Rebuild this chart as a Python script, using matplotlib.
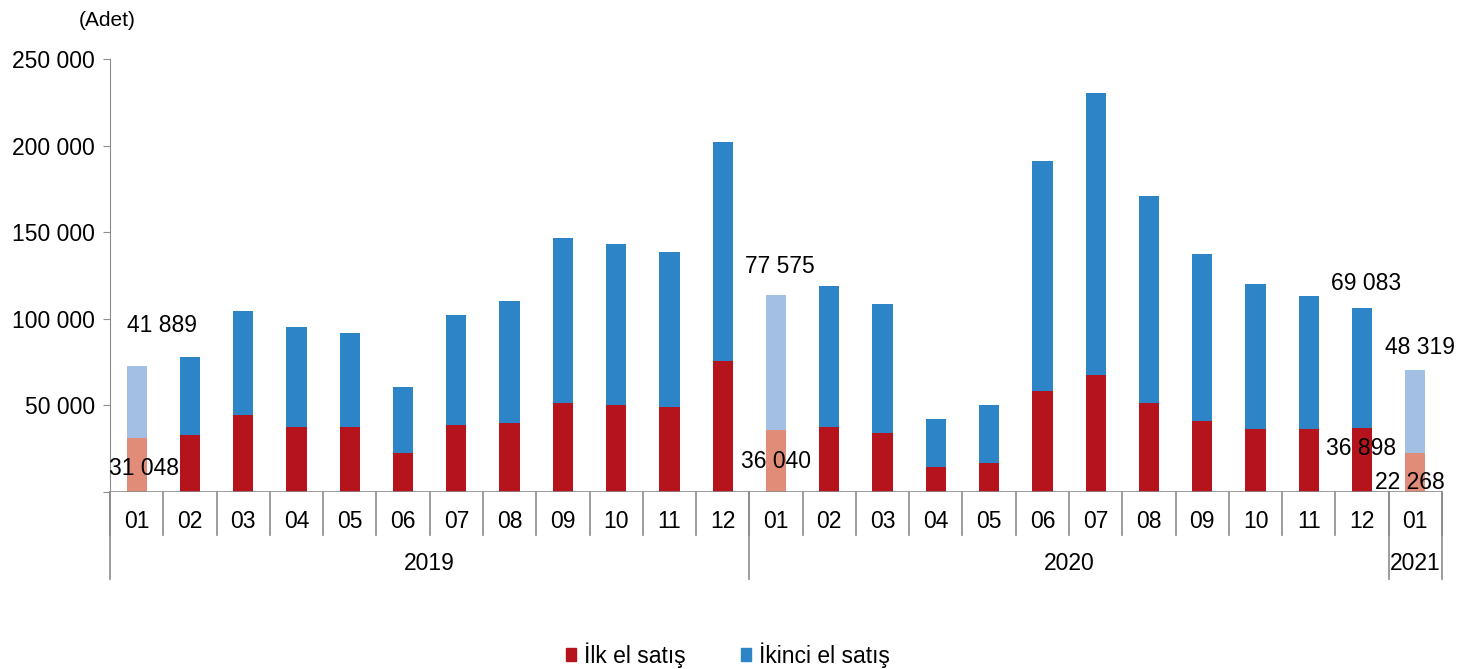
import matplotlib
matplotlib.use("Agg")
import matplotlib.pyplot as plt
from matplotlib.transforms import blended_transform_factory
from matplotlib.patches import Patch

plt.rcParams['font.family'] = ['Liberation Sans', 'DejaVu Sans']

months = ["01", "02", "03", "04", "05", "06", "07", "08", "09", "10", "11", "12",
          "01", "02", "03", "04", "05", "06", "07", "08", "09", "10", "11", "12",
          "01"]
years = ["2019", "2020", "2021"]
year_counts = [12, 12, 1]

ilk_el = [31048, 33000, 44500, 37500, 37500, 22500, 38700, 39800, 51400, 50200, 49000, 75600,
          36040, 37500, 34000, 14400, 16700, 58300, 67600, 51400, 41000, 36400, 36400, 36898,
          22268]
ikinci_el = [41889, 45000, 60000, 57800, 54300, 38100, 63500, 70500, 95200, 93000, 89600, 126400,
             77575, 81400, 74500, 27700, 33500, 132700, 162800, 119500, 96400, 83700, 76800, 69083,
             48319]
highlight = [0, 12, 24]

labelled_ilk = {0: "31 048", 12: "36 040", 23: "36 898", 24: "22 268"}
labelled_ikinci = {0: "41 889", 12: "77 575", 23: "69 083", 24: "48 319"}

RED = "#B5141C"
BLUE = "#2D84C6"
LRED = "#E08C78"
LBLUE = "#A4BFE4"
GRAY = "#8C8C8C"

fig = plt.figure(figsize=(14.77, 6.69), dpi=100)
ax = fig.add_axes([110/1477, 1-492/669, (1442-110)/1477, 433/669])

n = len(months)
xs = list(range(n))
red_c = [LRED if i in highlight else RED for i in xs]
blue_c = [LBLUE if i in highlight else BLUE for i in xs]
w = 0.38
ax.bar(xs, ilk_el, width=w, color=red_c, zorder=2)
ax.bar(xs, ikinci_el, width=w, bottom=ilk_el, color=blue_c, zorder=2)

ax.set_xlim(-0.5, n - 0.5)
ax.set_ylim(0, 250000)
ax.set_yticks(range(0, 250001, 50000))
ax.set_yticklabels([("{:,}".format(v).replace(",", " ") if v else "") for v in range(0, 250001, 50000)],
                   fontsize=16.5)
ax.tick_params(axis='y', length=5, color=GRAY, pad=6)
ax.set_xticks([])
for s in ["top", "right", "bottom"]:
    ax.spines[s].set_visible(False)
ax.spines["left"].set_color(GRAY)
ax.axhline(0, color=GRAY, lw=1.2, zorder=3)

tr = blended_transform_factory(ax.transData, ax.transAxes)
# month separators and labels
for i in range(n + 1):
    ax.plot([i - 0.5, i - 0.5], [0, -0.10], color=GRAY, lw=1.2, transform=tr, clip_on=False)
for i, m in enumerate(months):
    ax.text(i, -0.069, m, transform=tr, ha="center", va="center", fontsize=16.5)
# year separators and labels
bounds = [0]
for c in year_counts:
    bounds.append(bounds[-1] + c)
for b in bounds:
    ax.plot([b - 0.5, b - 0.5], [0, -0.20], color=GRAY, lw=1.2, transform=tr, clip_on=False)
for k, y in enumerate(years):
    mid = (bounds[k] + bounds[k + 1] - 1) / 2
    ax.text(mid, -0.165, y, transform=tr, ha="center", va="center", fontsize=16.5)

# value labels
ikinci_off = {0: (18, 29), 12: (3, 21), 23: (3, 18), 24: (3, 16)}
ilk_off = {0: (5, -22), 12: (0, -23), 23: (-1, -15), 24: (-4, -21)}
for i, t in labelled_ikinci.items():
    top = ilk_el[i] + ikinci_el[i]
    ax.annotate(t, (i, top), xytext=ikinci_off[i], textcoords="offset points",
                ha="center", va="center", fontsize=16.5, zorder=5)
for i, t in labelled_ilk.items():
    ax.annotate(t, (i, ilk_el[i]), xytext=ilk_off[i], textcoords="offset points",
                ha="center", va="center", fontsize=16.5, zorder=5)

fig.text(107/1477, 1-20/669, "(Adet)", ha="center", va="center", fontsize=15)

handles = [Patch(color=RED, label="İlk el satış"), Patch(color=BLUE, label="İkinci el satış")]
fig.legend(handles=handles, loc="center", bbox_to_anchor=(728/1477, 1-655/669), ncol=2,
           frameon=False, fontsize=16.5, handlelength=0.45, handleheight=0.45,
           handletextpad=0.35, columnspacing=2.4)

fig.savefig("out.png", dpi=100, facecolor="white")
